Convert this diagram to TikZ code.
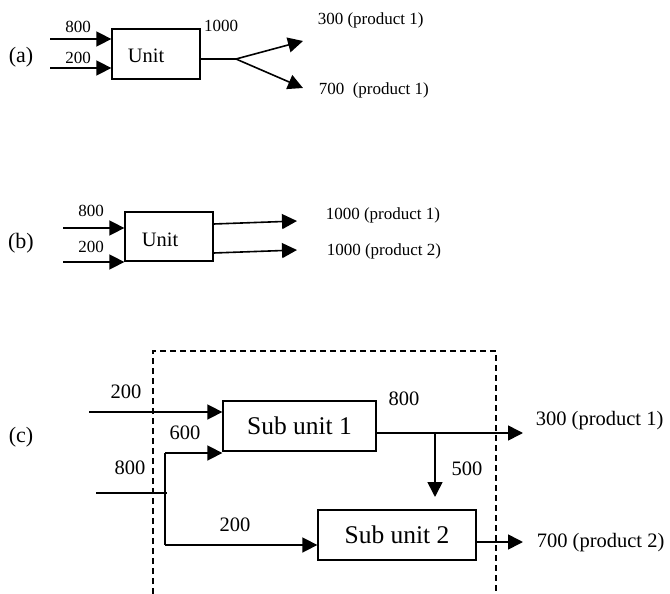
\documentclass[tikz,border=0pt]{standalone}
\usepackage{fontspec}
\setmainfont{Liberation Serif}
\usetikzlibrary{arrows.meta}

\begin{document}
\begin{tikzpicture}
[x=1pt,y=-1pt,>={Triangle[length=15pt,width=15pt]},line width=1.6pt,
block/.style = {draw, line width=1.3pt, inner sep=0pt},
tag/.style = {inner sep=0pt, font=\fontsize{22}{24}\selectfont},
num/.style = {inner sep=0pt, font=\fontsize{17}{19}\selectfont},
bignum/.style = {inner sep=0pt, font=\fontsize{20.5}{22}\selectfont},
unittext/.style = {inner sep=0pt, font=\fontsize{20.5}{22}\selectfont},
]
\useasboundingbox (0,0) rectangle (670,594);

% (a)
\node (la) at (21,57)[tag] {(a)};
\node (ua) at (156,54)[block, minimum width=88pt, minimum height=50pt] {};
\node (ta) at (146,56)[unittext] {Unit};
\coordinate (ia1) at (50,39);
\coordinate (ia2) at (50,68);
\draw[->] (ia1)--(ia1 -| ua.west);
\draw[->] (ia2)--(ia2 -| ua.west);
\node (na1) at (78,27)[num] {800};
\node (na2) at (78,58)[num] {200};
\coordinate (sa) at (236,59);
\coordinate (oa1) at (303,41);
\coordinate (oa2) at (303,88);
\draw (sa -| ua.east)--(sa);
\draw[->] (sa)--(oa1);
\draw[->] (sa)--(oa2);
\node (na3) at (221,26)[num] {1000};
\node (pa1) at (317,20)[num, anchor=west] {300 (product 1)};
\node (pa2) at (318,90)[num, anchor=west] {700\ \ (product 1)};

% (b)
\node (lb) at (21,243)[tag] {(b)};
\node (ub) at (169,236.5)[block, minimum width=88pt, minimum height=49pt] {};
\node (tb) at (160,240)[unittext] {Unit};
\coordinate (ib1) at (63,228);
\coordinate (ib2) at (63,262);
\draw[->] (ib1)--(ib1 -| ub.west);
\draw[->] (ib2)--(ib2 -| ub.west);
\node (nb1) at (91,211)[num] {800};
\node (nb2) at (91,247)[num] {200};
\coordinate (ob1) at (297,221);
\coordinate (ob2) at (297,250);
\draw[->] (ub.east |- 0,224)--(ob1);
\draw[->] (ub.east |- 0,253)--(ob2);
\node (pb1) at (325,215)[num, anchor=west] {1000 (product 1)};
\node (pb2) at (326,251)[num, anchor=west] {1000 (product 2)};

% (c)
\node (lc) at (21,437)[tag] {(c)};
\draw[dash pattern=on 6pt off 4pt, line width=1.2pt] (153,594)--(153,351)--(496,351)--(496,594);
\node (s1) at (299.5,426)[block, minimum width=153pt, minimum height=50pt,
  font=\fontsize{25.5}{27}\selectfont] {Sub unit 1};
\node (s2) at (397,535)[block, minimum width=158pt, minimum height=50pt,
  font=\fontsize{25.5}{27}\selectfont] {Sub unit 2};
\coordinate (ic1) at (89,412);
\draw[->] (ic1)--(ic1 -| s1.west);
\node (nc1) at (126,392)[bignum] {200};
\coordinate (ic2) at (96,493);
\coordinate (ct) at (165,453);
\coordinate (cb) at (165,545);
\draw (ic2)--(167,493);
\draw (ct)--(cb);
\draw[->] (ct)--(ct -| s1.west);
\draw[->] (cb)--(cb -| s2.west);
\node (nc2) at (130,468)[bignum] {800};
\node (nc3) at (185,433)[bignum] {600};
\node (nc4) at (235,525)[bignum] {200};
\coordinate (oc1) at (523,433);
\coordinate (bc) at (435,433);
\coordinate (dc) at (435,497);
\draw[->] (oc1 -| s1.east)--(oc1);
\draw[->] (bc)--(dc);
\node (nc5) at (404,399)[bignum] {800};
\node (nc6) at (467,469)[bignum] {500};
\coordinate (oc2) at (523,542);
\draw[->] (oc2 -| s2.east)--(oc2);
\node (pc1) at (535,421)[bignum, anchor=west] {300 (product 1)};
\node (pc2) at (536,543)[bignum, anchor=west] {700 (product 2)};

\end{tikzpicture}
\end{document}
